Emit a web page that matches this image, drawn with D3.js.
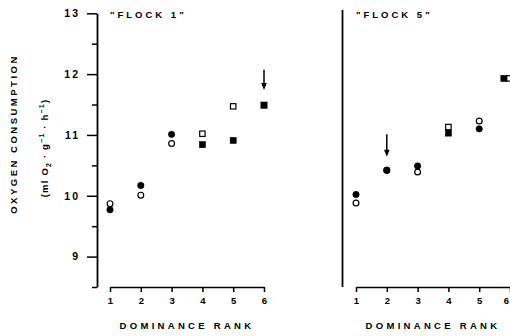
<!DOCTYPE html>
<html>
<head>
<meta charset="utf-8">
<script src="https://cdn.jsdelivr.net/npm/d3@7"></script>
<style>
  body { margin: 0; background: #fff; }
  svg { display: block; }
  text { font-family: "Liberation Sans", Arial, sans-serif; font-weight: bold; fill: #000; }
</style>
</head>
<body>
<svg id="chart" width="510" height="336"></svg>
<script>
// data
const ranks = [1, 2, 3, 4, 5, 6];
const yTicks = [8.5, 9, 9.5, 10, 10.5, 11, 11.5, 12, 12.5, 13];

const flock1Filled = [9.77, 10.17, 11.01, 10.84, 10.91, 11.49];
const flock1Open = [9.87, 10.01, 10.86, 11.02, 11.47, 11.49];
const flock1Shape = ['circle', 'circle', 'circle', 'square', 'square', 'square'];
const flock1FilledRank = [1, 2, 3, 4, 5, 6];
const flock1OpenRank = [1, 2, 3, 4, 5, 6];
const flock1Arrow = { rank: 6, from: 12.07, to: 11.74 };

const flock5Filled = [10.02, 10.42, 10.49, 11.03, 11.10, 11.93];
const flock5Open = [9.88, 10.42, 10.39, 11.13, 11.23, 11.93];
const flock5Shape = ['circle', 'circle', 'circle', 'square', 'circle', 'square'];
const flock5FilledRank = [1, 2, 3, 4, 5, 5.8];
const flock5OpenRank = [1, 2, 3, 4, 5, 5.98];
const flock5Arrow = { rank: 2, from: 11.01, to: 10.64 };

const svg = d3.select('#chart');

const y = d3.scaleLinear().domain([8.5, 13]).range([287, 13.3]);

const drawPanel = (opts) => {
  const x = d3.scaleLinear().domain([1, 6]).range(opts.xRange);
  const g = svg.append('g');

  // x axis
  const xAxis = g.append('g')
    .attr('transform', 'translate(0,287)')
    .call(d3.axisBottom(x).tickValues(ranks).tickSize(5).tickSizeOuter(0).tickFormat(d3.format('d')));
  xAxis.select('.domain').attr('stroke-width', 1.6);
  xAxis.selectAll('.tick line').attr('stroke-width', 1.5);
  xAxis.selectAll('.tick text')
    .attr('dy', '0.95em')
    .style('font-size', '9.5px')
    .style('font-family', '"Liberation Sans", Arial, sans-serif')
    .style('font-weight', 'bold');
  if (opts.xRange[1] >= 508) {
    // last label sits on the page edge
    xAxis.selectAll('.tick text').filter((d) => d === 6)
      .attr('text-anchor', 'end').attr('x', -1.5);
  }

  g.append('text')
    .attr('x', (opts.xRange[0] + opts.xRange[1]) / 2)
    .attr('y', 329)
    .attr('text-anchor', 'middle')
    .style('font-size', '9.5px')
    .style('letter-spacing', '3.3px')
    .text('DOMINANCE RANK');

  // y axis
  if (opts.yLabels) {
    const yAxis = g.append('g')
      .attr('transform', `translate(${opts.yAxisX},0)`)
      .call(d3.axisLeft(y).tickValues(yTicks).tickSizeOuter(0)
        .tickFormat((d) => (Number.isInteger(d) ? d : '')));
    yAxis.select('.domain').attr('stroke-width', 1.8);
    yAxis.selectAll('.tick line')
      .attr('stroke-width', 1.5)
      .attr('x2', (d) => (Number.isInteger(d) ? -10 : -5));
    yAxis.selectAll('.tick text')
      .attr('x', -17)
      .style('font-size', '10.5px')
      .style('letter-spacing', '2px')
      .style('font-family', '"Liberation Sans", Arial, sans-serif')
      .style('font-weight', 'bold');
  } else {
    g.append('line')
      .attr('x1', opts.yAxisX).attr('x2', opts.yAxisX)
      .attr('y1', 10).attr('y2', y(8.5))
      .attr('stroke', '#000')
      .attr('stroke-width', 1.8);
  }

  g.append('text')
    .attr('x', opts.xRange[0])
    .attr('y', 18)
    .style('font-size', '9.5px')
    .style('letter-spacing', '3px')
    .text(opts.title);

  // markers: open under filled
  const drawMarkers = (values, rks, filled) => {
    values.forEach((v, i) => {
      if (v == null) return;
      const cx = x(rks[i]);
      const cy = y(v);
      const fill = filled ? '#000' : '#fff';
      if (opts.shapes[i] === 'circle') {
        g.append('circle')
          .attr('cx', cx).attr('cy', cy).attr('r', filled ? 3.2 : 2.9)
          .attr('fill', fill).attr('stroke', '#000').attr('stroke-width', filled ? 0.6 : 1.2);
      } else {
        const s = filled ? 6 : 5.4;
        g.append('rect')
          .attr('x', cx - s / 2).attr('y', cy - s / 2)
          .attr('width', s).attr('height', s)
          .attr('fill', fill).attr('stroke', '#000').attr('stroke-width', filled ? 0.6 : 1.2);
      }
    });
  };
  drawMarkers(opts.open, opts.openRank, false);
  drawMarkers(opts.filled, opts.filledRank, true);

  // arrow
  const ax = x(opts.arrow.rank);
  const y1 = y(opts.arrow.from);
  const y2 = y(opts.arrow.to);
  g.append('line')
    .attr('x1', ax).attr('x2', ax)
    .attr('y1', y1).attr('y2', y2 - 6)
    .attr('stroke', '#000').attr('stroke-width', 1.5);
  g.append('path')
    .attr('d', `M${ax - 2.8},${y2 - 7} L${ax + 2.8},${y2 - 7} L${ax},${y2} Z`)
    .attr('fill', '#000');
};

drawPanel({
  xRange: [110, 264],
  yAxisX: 97,
  yLabels: true,
  title: '"FLOCK 1"',
  filled: flock1Filled,
  open: flock1Open,
  shapes: flock1Shape,
  filledRank: flock1FilledRank,
  openRank: flock1OpenRank,
  arrow: flock1Arrow
});

drawPanel({
  xRange: [356, 510],
  yAxisX: 342.5,
  yLabels: false,
  title: '"FLOCK 5"',
  filled: flock5Filled,
  open: flock5Open,
  shapes: flock5Shape,
  filledRank: flock5FilledRank,
  openRank: flock5OpenRank,
  arrow: flock5Arrow
});

// y axis title
svg.append('text')
  .attr('transform', 'translate(17,134) rotate(-90)')
  .attr('text-anchor', 'middle')
  .style('font-size', '9.5px')
  .style('letter-spacing', '2.5px')
  .text('OXYGEN CONSUMPTION');

const unit = svg.append('text')
  .attr('transform', 'translate(48,148) rotate(-90)')
  .attr('text-anchor', 'middle')
  .style('font-size', '9.5px')
  .style('letter-spacing', '1.2px');
unit.append('tspan').text('(ml O');
unit.append('tspan').attr('dy', 3).style('font-size', '7px').text('2');
unit.append('tspan').attr('dy', -3).text(' · g');
unit.append('tspan').attr('dy', -4).style('font-size', '7px').text('−1');
unit.append('tspan').attr('dy', 4).text(' · h');
unit.append('tspan').attr('dy', -4).style('font-size', '7px').text('−1');
unit.append('tspan').attr('dy', 4).text(')');
</script>
</body>
</html>
